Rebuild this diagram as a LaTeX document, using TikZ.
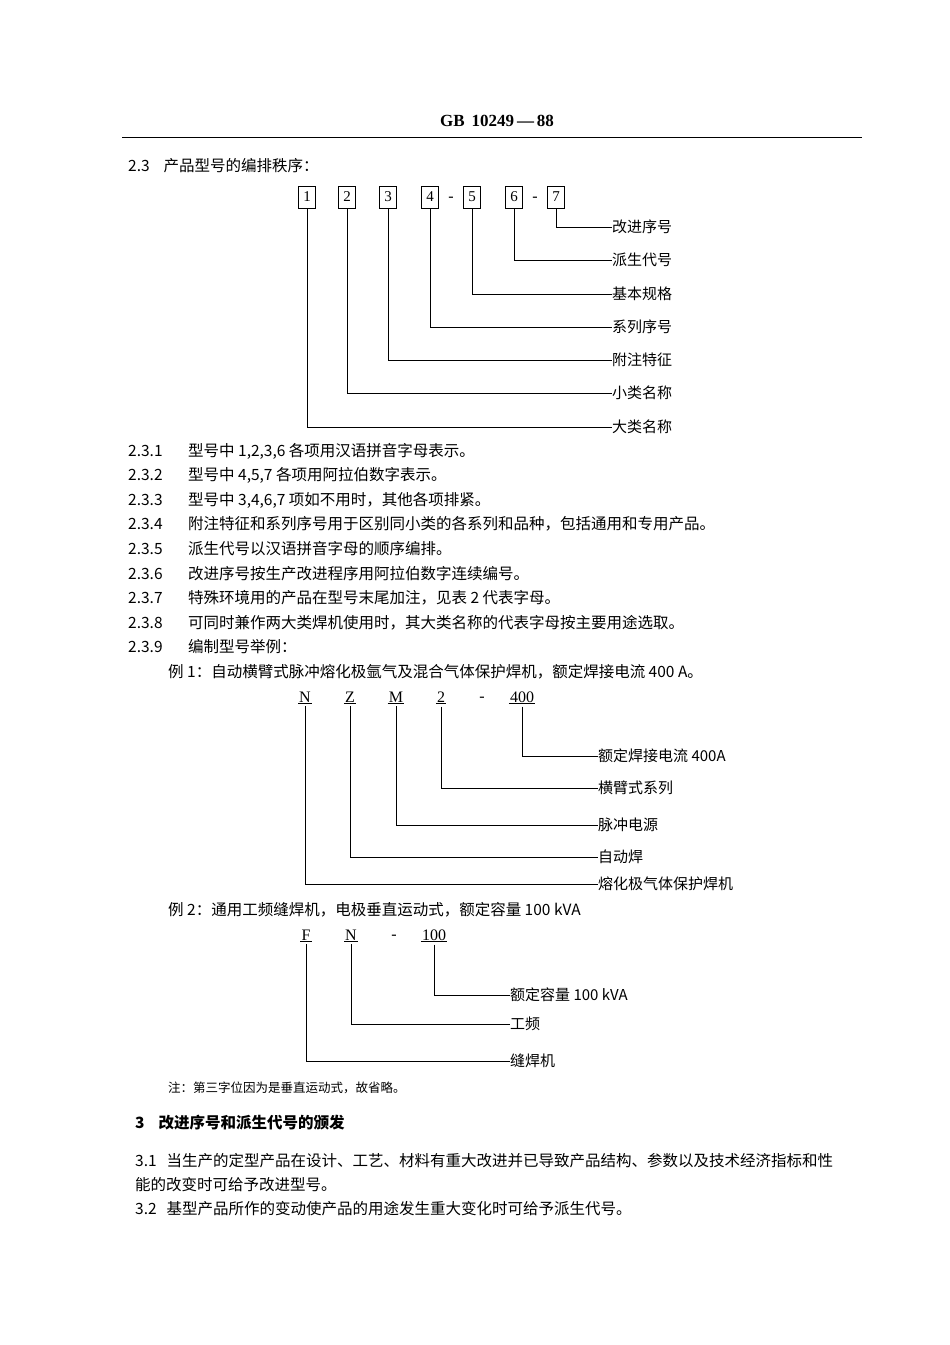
\documentclass[tikz,border=0pt]{standalone}
\usepackage{fontspec}
\setmainfont{Noto Sans CJK SC}
\newfontfamily\serifd{Liberation Serif}
\begin{document}
\begin{tikzpicture}[x=1pt,y=-1pt,
  txt/.style={anchor=west,inner sep=0pt,font=\fontsize{15.5}{17}\selectfont},
  lbl/.style={anchor=west,inner sep=0pt,font=\fontsize{15}{17}\selectfont},
  box/.style={draw,line width=0.8pt,minimum width=17pt,minimum height=22pt,inner sep=0pt,font=\serifd\fontsize{15}{17}\selectfont},
  ch/.style={inner sep=1pt,font=\serifd\fontsize{16}{18}\selectfont},
  ln/.style={line width=0.7pt}]
\useasboundingbox (0,0) rectangle (950,1345);
\node[inner sep=0pt,font=\serifd\bfseries\fontsize{17}{19}\selectfont] (hdr) at (497,121) {GB\, 10249\,—\,88};
\draw[line width=1pt] (122,137) -- (862,137);
\node[txt] (t23) at (128,166) {2.3\hspace{14pt}产品型号的编排秩序：};
% boxes
\foreach \n/\x in {1/307,2/347,3/388,4/430,5/472,6/514,7/556}{\node[box] (b\n) at (\x,197) {\n};}
\node[ch] (d1) at (451,199) {-};
\node[ch] (d2) at (535,199) {-};
\foreach \n/\y/\t in {7/227/改进序号,6/260/派生代号,5/294/基本规格,4/327/系列序号,3/360/附注特征,2/393/小类名称,1/427/大类名称}{
  \node[lbl] (l\n) at (612,\y) {\t};
  \draw[ln] (b\n.south) |- (l\n.west);}
% text lines
\foreach \k/\y/\t in {1/451/{型号中 1,2,3,6 各项用汉语拼音字母表示。},
 2/475/{型号中 4,5,7 各项用阿拉伯数字表示。},
 3/500/{型号中 3,4,6,7 项如不用时，其他各项排紧。},
 4/524/{附注特征和系列序号用于区别同小类的各系列和品种，包括通用和专用产品。},
 5/549/{派生代号以汉语拼音字母的顺序编排。},
 6/574/{改进序号按生产改进程序用阿拉伯数字连续编号。},
 7/598/{特殊环境用的产品在型号末尾加注，见表 2 代表字母。},
 8/623/{可同时兼作两大类焊机使用时，其大类名称的代表字母按主要用途选取。},
 9/647/{编制型号举例：}}{
 \node[txt] (n\k) at (128,\y) {2.3.\k};
 \node[txt] (s\k) at (188,\y) {\t};}
\node[txt] (ex1) at (168,672) {例 1：自动横臂式脉冲熔化极氩气及混合气体保护焊机，额定焊接电流 400 A。};
% example 1
\foreach \n/\x/\t in {a/305/N,b/350/Z,c/396/M,d/441/2,e/522/400}{
 \node[ch] (e\n) at (\x,697) {\t};
 \draw[line width=0.6pt] (e\n.south west) -- (e\n.south east);}
\node[ch] (edash) at (482,699) {-};
\foreach \n/\y/\t in {e/756/{额定焊接电流 400A},d/788/横臂式系列,c/825/脉冲电源,b/857/自动焊,a/884/熔化极气体保护焊机}{
 \node[lbl] (m\n) at (598,\y) {\t};
 \draw[ln] ([yshift=-3pt]e\n.south) |- (m\n.west);}
\node[txt] (ex2) at (168,910) {例 2：通用工频缝焊机，电极垂直运动式，额定容量 100 kVA};
\foreach \n/\x/\t in {a/306/F,b/351/N,c/434/100}{
 \node[ch] (f\n) at (\x,935) {\t};
 \draw[line width=0.6pt] (f\n.south west) -- (f\n.south east);}
\node[ch] (fdash) at (394,937) {-};
\foreach \n/\y/\t in {c/995/{额定容量 100 kVA},b/1024/工频,a/1061/缝焊机}{
 \node[lbl] (g\n) at (510,\y) {\t};
 \draw[ln] ([yshift=-3pt]f\n.south) |- (g\n.west);}
\node[anchor=west,inner sep=0pt,font=\fontsize{12.5}{14}\selectfont] (note) at (168,1088) {注：第三字位因为是垂直运动式，故省略。};
\node[txt,font=\bfseries\fontsize{15.5}{17}\selectfont] (h3) at (135,1123) {3\hspace{14pt}改进序号和派生代号的颁发};
\node[txt] (p31) at (135,1161) {3.1\hspace{10pt}当生产的定型产品在设计、工艺、材料有重大改进并已导致产品结构、参数以及技术经济指标和性};
\node[txt] (p31b) at (135,1185) {能的改变时可给予改进型号。};
\node[txt] (p32) at (135,1209) {3.2\hspace{10pt}基型产品所作的变动使产品的用途发生重大变化时可给予派生代号。};
\end{tikzpicture}
\end{document}
